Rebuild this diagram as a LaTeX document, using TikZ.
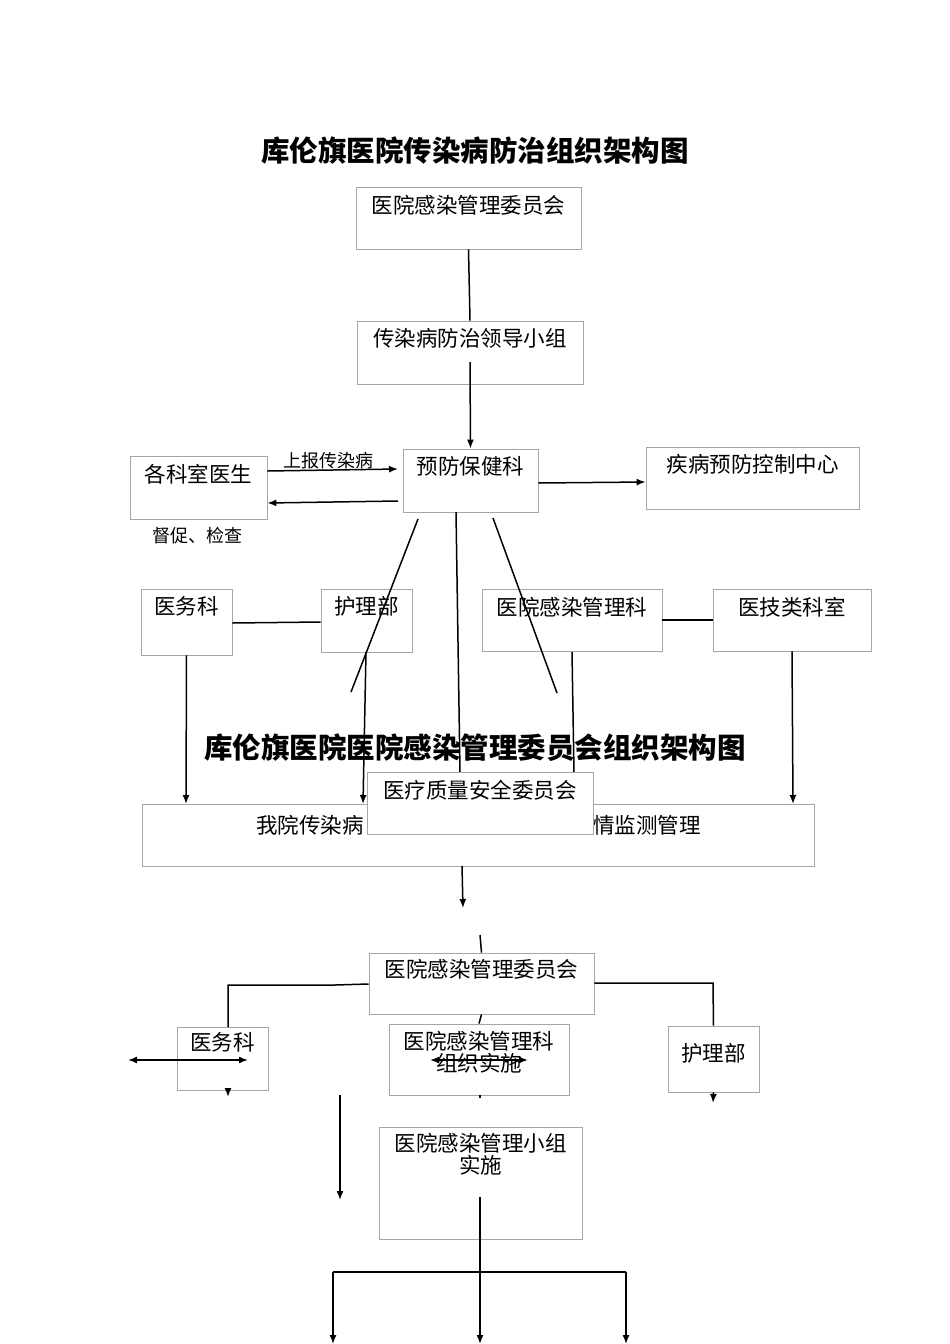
\documentclass[tikz,border=0pt]{standalone}
\usepackage{fontspec}
\setmainfont{Noto Sans CJK SC}
\usetikzlibrary{arrows.meta}
\begin{document}
\begin{tikzpicture}[x=1pt,y=-1pt,
  bx/.style={draw=black!35,line width=0.8pt,fill=white,inner sep=0pt},
  tx/.style={font=\fontsize{21.5}{26}\selectfont,inner sep=0pt,align=center},
  sm/.style={font=\fontsize{18}{20}\selectfont,inner sep=0pt},
  ttl/.style={font=\bfseries\fontsize{28.5}{32}\selectfont,inner sep=0pt},
  ln/.style={line width=1.5pt},
  ar/.style={line width=1.5pt,-{Latex[length=9pt,width=7pt]}},
  dar/.style={line width=1.5pt,{Latex[length=9pt,width=7pt]}-{Latex[length=9pt,width=7pt]}}]
\useasboundingbox (0,0) rectangle (950,1344);
\fill[white] (0,0) rectangle (950,1344);
\newcommand\bxnode[6]{\node[bx,minimum width=#3,minimum height=#4] (#1) at (#2) {};
  \node[tx,anchor=north] (#1t) at ([yshift=#5]#1.north) {#6};}
% titles
\node[ttl] (t1) at (475,151) {库伦旗医院传染病防治组织架构图};
% upper chart
\bxnode{a}{468.5,218}{225}{62}{-8}{医院感染管理委员会}
\bxnode{b}{470,352.5}{226}{63}{-8}{传染病防治领导小组}
\bxnode{c}{198.5,487.5}{137}{63}{-8}{各科室医生}
\bxnode{d}{470.5,480.5}{135}{63}{-8}{预防保健科}
\bxnode{e}{752.5,478}{213}{62}{-8}{疾病预防控制中心}
\bxnode{f}{186.5,622}{91}{66}{-8}{医务科}
\bxnode{g}{366.5,620.5}{91}{63}{-8}{护理部}
\bxnode{h}{572,620}{180}{62}{-8}{医院感染管理科}
\bxnode{i}{792,620}{158}{62}{-8}{医技类科室}
\node[bx,minimum width=672,minimum height=62] (j) at (478,835) {};
\node[tx] (jt1) at (310,825) {我院传染病};
\node[tx] (jt2) at (647,825) {情监测管理};
\coordinate (c1) at (470,362);
\draw[ln] (a.south) -- (b.north);
\draw[ar] (c1) -- (d.north);
\draw[ar] (c.east |- 0,471) -- (398,469);
\node[sm] (lab1) at (328,461) {上报传染病};
\draw[ar] (398,501) -- (c.east |- 0,503);
\node[sm] (lab2) at (197,536) {督促、检查};
\draw[ar] (d.east |- 0,483) -- (e.west |- 0,482);
\draw[ln] (418,519) -- (351,692);
\draw[ln] (456,512) -- (460,772);
\draw[ln] (493,518) -- (557,693);
\draw[ln] (f.east |- 0,623) -- (g.west |- 0,622);
\draw[ln] (h.east |- 0,620) -- (i.west |- 0,620);
\draw[ar] (f.south) -- (186,804);
\draw[ar] (366,652) -- (363,804);
\draw[ln] (572,652) -- (574,772);
\draw[ar] (i.south) -- (793,804);
\node[ttl] (t2) at (475,748) {库伦旗医院医院感染管理委员会组织架构图};
\bxnode{k}{480,803}{226}{62}{-8}{医疗质量安全委员会}
\draw[ar] (462,866) -- (463,908);
% lower chart
\bxnode{m}{481.5,983.5}{225}{61}{-6}{医院感染管理委员会}
\draw[ln] (480,935) -- (m.north);
\bxnode{n}{222.5,1058.5}{91}{63}{-6}{医务科}
\bxnode{o}{479,1059.5}{180}{71}{-7}{医院感染管理科\\[-4pt]组织实施}
\bxnode{p}{713.5,1059}{91}{66}{-18}{护理部}
\draw[ln] (m.west |- 0,984) -- (335,985) -- (228,985) -- (228,1027);
\draw[ln] (m.east |- 0,983) -- (713,983) -- (p.north);
\draw[ln] (m.south) -- (o.north);
\draw[dar] (128,1060) -- (248,1060);
\draw[dar] (430,1060) -- (528,1060);
\draw[ar] (228,1090) -- (228,1097);
\draw[ln] (480,1095) -- (480,1098);
\draw[ar] (p.south) -- (713,1103);
\draw[ar] (340,1095) -- (340,1200);
\bxnode{q}{480.5,1183}{203}{112}{-6}{医院感染管理小组\\[-4pt]实施}
\coordinate (q1) at (480,1197);
\coordinate (br) at (480,1272);
\draw[line width=2.2pt] (q1) -- (br);
\draw[line width=1.8pt] (333,1272) -- (626,1272);
\draw[ar] (333,1272) -- (333,1344);
\draw[ar] (br) -- (480,1344);
\draw[ar] (626,1272) -- (626,1344);
\end{tikzpicture}
\end{document}
